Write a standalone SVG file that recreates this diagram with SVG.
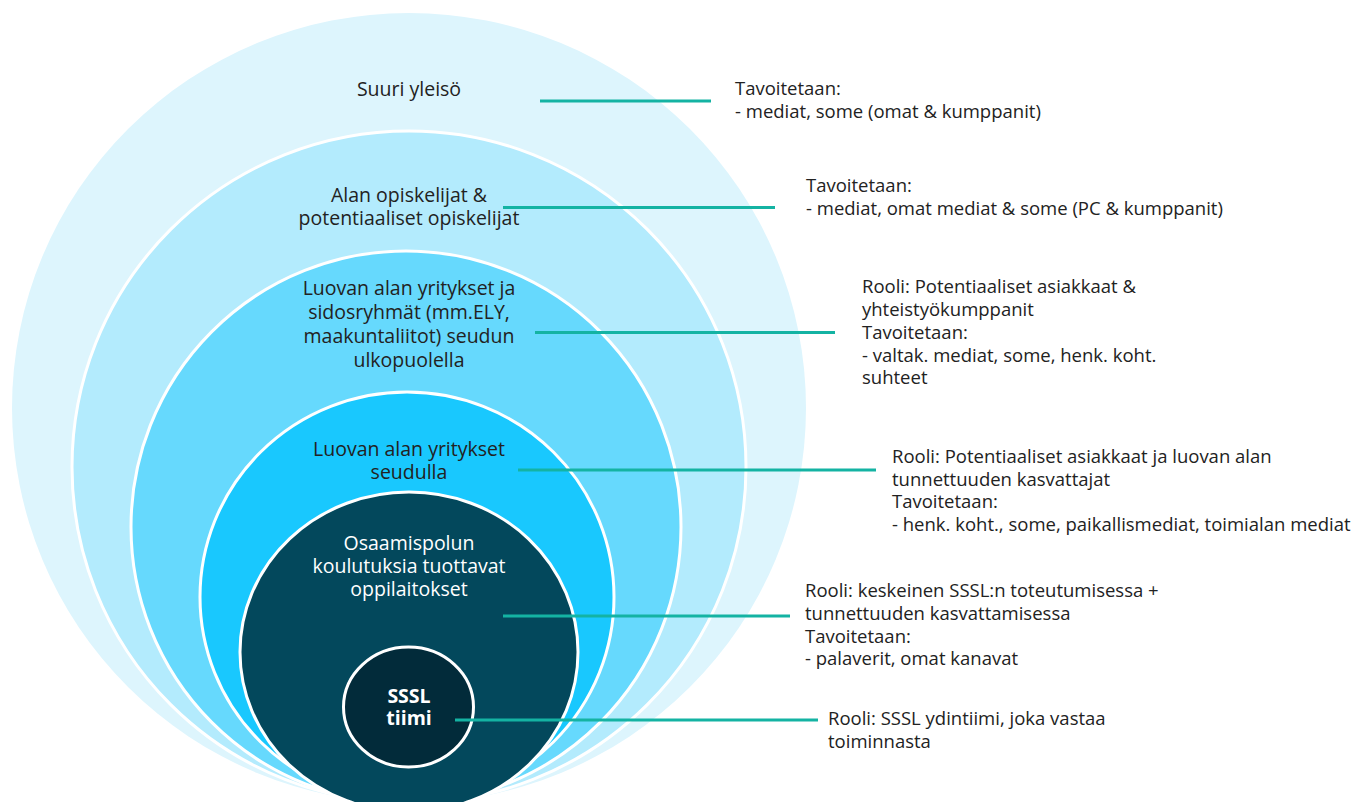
<svg xmlns="http://www.w3.org/2000/svg" width="1357" height="802" viewBox="0 0 1357 802">
<style>
.lbl{font-family:"Open Sans","Noto Sans","DejaVu Sans",sans-serif;font-size:19.5px;fill:#222;text-anchor:middle}
.lblw{font-family:"Open Sans","Noto Sans","DejaVu Sans",sans-serif;font-size:19.5px;fill:#fff;text-anchor:middle}
.lblb{font-family:"Open Sans","Noto Sans","DejaVu Sans",sans-serif;font-size:19.5px;font-weight:700;fill:#fff;text-anchor:middle}
.ann{font-family:"Open Sans","Noto Sans","DejaVu Sans",sans-serif;font-size:18.5px;fill:#222}
.ring{stroke:#fff;stroke-width:3}
.conn{stroke:#14b3a3;stroke-width:3;fill:none}
</style>
<rect width="1357" height="802" fill="#fff"/>
<g id="suuri-yleiso">
<ellipse cx="409" cy="408" rx="397" ry="395" fill="#ddf5fd"/>
<text class="lbl" x="409" y="96">Suuri yleisö</text>
</g>
<g id="alan-opiskelijat">
<ellipse class="ring" cx="409" cy="467" rx="337" ry="336" fill="#b3ebfd"/>
<text class="lbl" x="409" y="201.5">Alan opiskelijat &amp;<tspan x="409" dy="23">potentiaaliset opiskelijat</tspan></text>
</g>
<g id="luovan-alan-ulkopuolella">
<ellipse class="ring" cx="406" cy="527" rx="275" ry="276" fill="#66d9fd"/>
<text class="lbl" x="409" y="295">Luovan alan yritykset ja<tspan x="409" dy="24">sidosryhmät (mm.ELY,</tspan><tspan x="409" dy="24">maakuntaliitot) seudun</tspan><tspan x="409" dy="24">ulkopuolella</tspan></text>
</g>
<g id="luovan-alan-seudulla">
<ellipse class="ring" cx="407" cy="597" rx="207" ry="205" fill="#19c8fe"/>
<text class="lbl" x="409" y="456">Luovan alan yritykset<tspan x="409" dy="23">seudulla</tspan></text>
</g>
<g id="oppilaitokset">
<ellipse class="ring" cx="409" cy="652" rx="169" ry="160" fill="#03485c"/>
<text class="lblw" x="409" y="550">Osaamispolun<tspan x="409" dy="23">koulutuksia tuottavat</tspan><tspan x="409" dy="23">oppilaitokset</tspan></text>
</g>
<g id="sssl-tiimi">
<ellipse class="ring" cx="408.5" cy="707" rx="65" ry="60" fill="#022b3a"/>
<text class="lblb" x="409" y="702.5">SSSL<tspan x="409" dy="22.5">tiimi</tspan></text>
</g>
<g id="connectors">
<line class="conn" x1="540" y1="101" x2="711" y2="101"/>
<line class="conn" x1="503" y1="207.5" x2="775" y2="207.5"/>
<line class="conn" x1="535" y1="332.5" x2="835" y2="332.5"/>
<line class="conn" x1="518" y1="470" x2="876" y2="470"/>
<line class="conn" x1="503" y1="616" x2="790" y2="616"/>
<line class="conn" x1="455" y1="720" x2="818" y2="720"/>
</g>
<g id="ann-suuri-yleiso">
<text class="ann" x="735" y="95">Tavoitetaan:<tspan x="735" dy="23">- mediat, some (omat &amp; kumppanit)</tspan></text>
</g>
<g id="ann-alan-opiskelijat">
<text class="ann" x="806" y="192">Tavoitetaan:<tspan x="806" dy="23">- mediat, omat mediat &amp; some (PC &amp; kumppanit)</tspan></text>
</g>
<g id="ann-luovan-alan-ulkopuolella">
<text class="ann" x="862" y="293">Rooli: Potentiaaliset asiakkaat &amp;<tspan x="862" dy="23">yhteistyökumppanit</tspan><tspan x="862" dy="23">Tavoitetaan:</tspan><tspan x="862" dy="22.5">- valtak. mediat, some, henk. koht.</tspan><tspan x="862" dy="22.5">suhteet</tspan></text>
</g>
<g id="ann-luovan-alan-seudulla">
<text class="ann" x="892" y="463">Rooli: Potentiaaliset asiakkaat ja luovan alan<tspan x="892" dy="22.5">tunnettuuden kasvattajat</tspan><tspan x="892" dy="22.5">Tavoitetaan:</tspan><tspan x="892" dy="22.5">- henk. koht., some, paikallismediat, toimialan mediat</tspan></text>
</g>
<g id="ann-oppilaitokset">
<text class="ann" x="805" y="597">Rooli: keskeinen SSSL:n toteutumisessa +<tspan x="805" dy="23">tunnettuuden kasvattamisessa</tspan><tspan x="805" dy="22.5">Tavoitetaan:</tspan><tspan x="805" dy="22.5">- palaverit, omat kanavat</tspan></text>
</g>
<g id="ann-sssl-tiimi">
<text class="ann" x="828" y="725">Rooli: SSSL ydintiimi, joka vastaa<tspan x="828" dy="23">toiminnasta</tspan></text>
</g>
</svg>
